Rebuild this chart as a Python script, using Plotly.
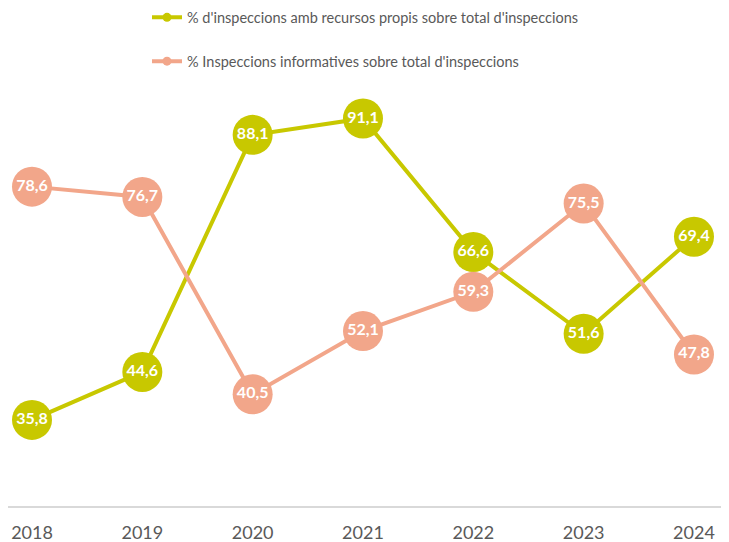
import plotly.graph_objects as go

years = ["2018", "2019", "2020", "2021", "2022", "2023", "2024"]
own_resources = [35.8, 44.6, 88.1, 91.1, 66.6, 51.6, 69.4]
informative = [78.6, 76.7, 40.5, 52.1, 59.3, 75.5, 47.8]
name_own = "% d'inspeccions amb recursos propis sobre total d'inspeccions"
name_inf = "% Inspeccions informatives sobre total d'inspeccions"

GREEN = "#C8C800"
ORANGE = "#F2A68A"
FONT = "Lato"

W, H = 721, 534
T, B = 62, 36
plot_h = H - T - B

xs = list(range(len(years)))

fig = go.Figure()

for vals, col in [(own_resources, GREEN), (informative, ORANGE)]:
    fig.add_trace(go.Scatter(
        x=xs, y=vals, mode="lines+markers+text",
        line=dict(color=col, width=4),
        marker=dict(color=col, size=40, line=dict(width=0)),
        text=[f"{v:.1f}".replace(".", ",") for v in vals],
        textposition="middle center",
        textfont=dict(family=FONT, size=16, color="white", weight="bold"),
        showlegend=False, cliponaxis=False, hoverinfo="skip",
    ))

for nm, col, grp in [(name_own, GREEN, "a"), (name_inf, ORANGE, "b")]:
    fig.add_trace(go.Scatter(
        x=[None], y=[None], mode="lines+markers", name=nm, legendgroup=grp,
        line=dict(color=col, width=4),
        marker=dict(color=col, size=9),
    ))

legend_top_px = -6.6
fig.update_layout(
    width=W, height=H,
    margin=dict(l=0, r=0, t=T, b=B, autoexpand=False),
    paper_bgcolor="white", plot_bgcolor="white",
    font=dict(family=FONT, color="#595959"),
    legend=dict(
        x=139 / W, xanchor="left",
        y=1 + (T - legend_top_px) / plot_h, yanchor="top",
        orientation="v", tracegroupgap=22,
        font=dict(family=FONT, size=14.5, color="#595959"),
        bgcolor="rgba(0,0,0,0)", itemwidth=30,
    ),
    xaxis=dict(
        range=[-24 / 110.33, (W - 24) / 110.33], tickmode="array",
        tickvals=xs, ticktext=years,
        showgrid=False, zeroline=False,
        showline=True, linecolor="#D9D9D9", linewidth=2,
        tickfont=dict(family=FONT, size=18, color="#595959"),
        ticks="", ticklabelstandoff=9,
    ),
    yaxis=dict(range=[20, 100], visible=False, showgrid=False, zeroline=False),
)

fig.write_html("out.html")
